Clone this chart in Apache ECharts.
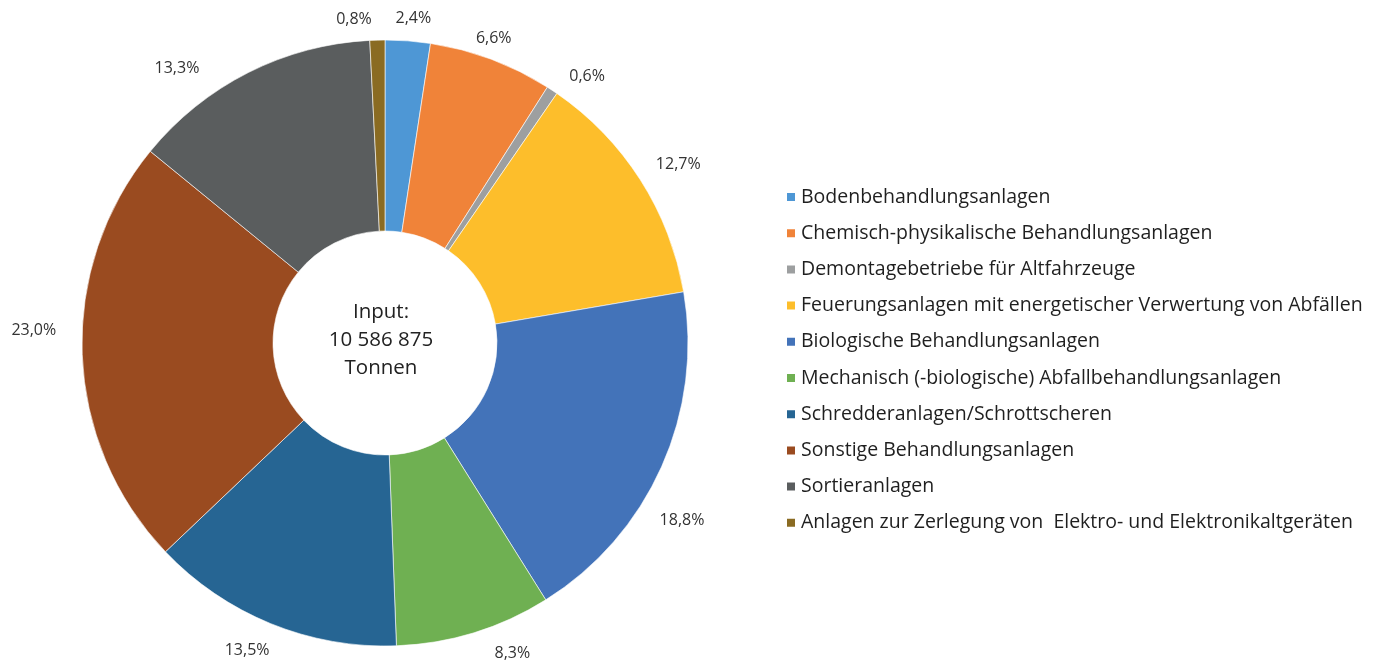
<!DOCTYPE html>
<html>
<head>
<meta charset="utf-8">
<script src="https://cdn.jsdelivr.net/npm/echarts@6/dist/echarts.min.js"></script>
<style>
  html, body { margin: 0; padding: 0; background: #fff; }
  #chart { width: 1379px; height: 662px; }
</style>
</head>
<body>
<div id="chart"></div>
<script>
// Anteile der Anlagenarten am Input (in %)
const categories = [
  'Bodenbehandlungsanlagen',
  'Chemisch-physikalische Behandlungsanlagen',
  'Demontagebetriebe für Altfahrzeuge',
  'Feuerungsanlagen mit energetischer Verwertung von Abfällen',
  'Biologische Behandlungsanlagen',
  'Mechanisch (-biologische) Abfallbehandlungsanlagen',
  'Schredderanlagen/Schrottscheren',
  'Sonstige Behandlungsanlagen',
  'Sortieranlagen',
  'Anlagen zur Zerlegung von  Elektro- und Elektronikaltgeräten'
];
const shares = [2.4, 6.6, 0.6, 12.7, 18.8, 8.3, 13.5, 23.0, 13.3, 0.8];
const colors = ['#4E97D5', '#F08339', '#9D9FA0', '#FDBE2B', '#4373B9',
                '#6FB052', '#266593', '#9A4B20', '#5A5D5E', '#8A6B22'];
const centerLines = ['Input:', '10 586 875', 'Tonnen'];

const FONT = '"Open Sans", "Noto Sans", sans-serif';

// kleine Verschiebungen der Prozent-Beschriftungen (wie im Original platziert)
const labelShift = [[-21, 0], [-30, 0], [-2, 5], [-10, -4], [-29, 45],
                    [7, 0], [14, 6], [3, -25], [-32, 15], [2, 1]];

const chart = echarts.init(document.getElementById('chart'));

const pieData = categories.map((name, i) => ({
  name,
  value: shares[i],
  itemStyle: { color: colors[i] }
}));

const option = {
  animation: false,
  backgroundColor: '#fff',
  legend: {
    orient: 'vertical',
    left: 780,
    top: 182,
    icon: 'rect',
    itemWidth: 10,
    itemHeight: 10,
    itemGap: 16.2,
    selectedMode: false,
    textStyle: {
      fontFamily: FONT,
      fontSize: 19.5,
      lineHeight: 19.5,
      color: '#1f1f1f'
    },
    data: categories
  },
  graphic: [{
    type: 'text',
    x: 381,
    y: 340,
    style: {
      text: centerLines.join('\n'),
      textAlign: 'center',
      textVerticalAlign: 'middle',
      font: '20.5px ' + FONT,
      lineHeight: 28,
      fill: '#222'
    }
  }],
  series: [{
    type: 'pie',
    center: [385, 343],
    radius: [112, 303],
    startAngle: 90,
    clockwise: true,
    avoidLabelOverlap: false,
    itemStyle: { borderColor: '#fff', borderWidth: 0.6 },
    label: {
      show: true,
      position: 'outside',
      fontFamily: FONT,
      fontSize: 16,
      color: '#333',
      formatter: p => p.value.toFixed(1).replace('.', ',') + '%'
    },
    labelLine: { show: false, length: 22, length2: 2 },
    labelLayout: p => ({ dx: labelShift[p.dataIndex][0], dy: labelShift[p.dataIndex][1] }),
    emphasis: { disabled: true },
    data: pieData
  }]
};

chart.setOption(option);
</script>
</body>
</html>
